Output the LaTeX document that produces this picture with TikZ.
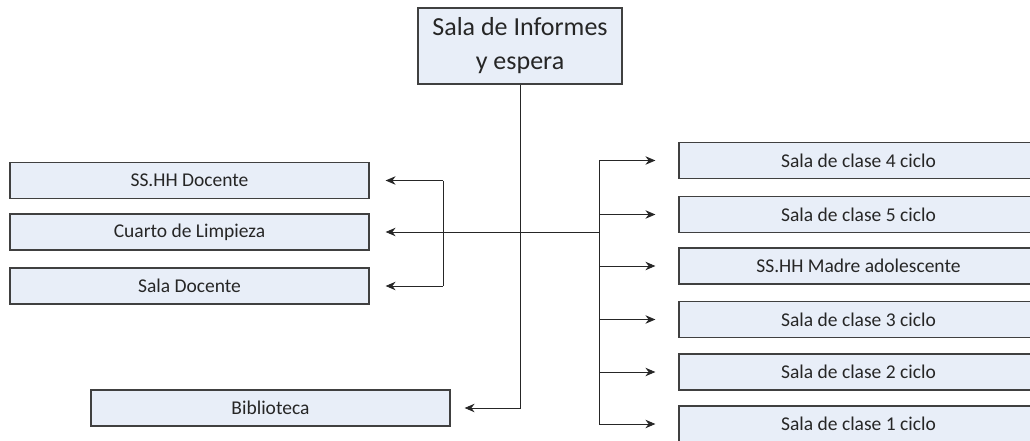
\documentclass[tikz,border=0pt]{standalone}
\usepackage{fontspec}
\setmainfont{Carlito}
\usetikzlibrary{arrows.meta}
\definecolor{boxfill}{HTML}{E8EEF8}
\definecolor{boxline}{HTML}{404040}
\begin{document}
\begin{tikzpicture}[x=1pt,y=-1pt,
  box/.style={draw=boxline, fill=boxfill, line width=1.2pt, minimum height=36pt, minimum width=359pt, inner sep=0pt, text=black!85, font=\fontsize{19.5}{22}\selectfont},
  link/.style={line width=0.9pt, draw=black!85},
  conn/.style={link, -{Stealth[length=10pt,width=8.5pt]}}]
\useasboundingbox (0,0) rectangle (1030,441);
\node[box, minimum width=204pt, minimum height=76pt, align=center, font=\fontsize{26}{34}\selectfont] (info) at (520,46) {Sala de Informes\\y espera};
\node[box] (ssd) at (189.5,180.5) {SS.HH Docente};
\node[box] (cl) at (189.5,232) {Cuarto de Limpieza};
\node[box] (sd) at (189.5,286) {Sala Docente};
\node[box] (bib) at (270.5,408) {Biblioteca};
\node[box] (r4) at (858.5,160.5) {Sala de clase 4 ciclo};
\node[box] (r5) at (858.5,214.5) {Sala de clase 5 ciclo};
\node[box] (rm) at (858.5,266) {SS.HH Madre adolescente};
\node[box] (r3) at (858.5,319.5) {Sala de clase 3 ciclo};
\node[box] (r2) at (858.5,372) {Sala de clase 2 ciclo};
\node[box] (r1) at (858.5,424) {Sala de clase 1 ciclo};
\coordinate (hubR) at (599,232);
\coordinate (hubL) at (443,232);
% trunk to Biblioteca
\draw[conn, shorten >=14pt] (info.south) |- (bib.east);
% main horizontal to Cuarto de Limpieza
\draw[conn, shorten >=16pt] (hubR) -- (cl.east);
% left bracket
\draw[link] (ssd.east -| hubL) -- (sd.east -| hubL);
\draw[conn, shorten >=16pt] (ssd.east -| hubL) -- (ssd.east);
\draw[conn, shorten >=16pt] (sd.east -| hubL) -- (sd.east);
% right bracket
\draw[link] (r4.west -| hubR) -- (r1.west -| hubR);
\foreach \r in {r4,r5,rm,r3,r2,r1}
  \draw[conn, shorten >=23pt] (\r.west -| hubR) -- (\r.west);
\end{tikzpicture}
\end{document}
